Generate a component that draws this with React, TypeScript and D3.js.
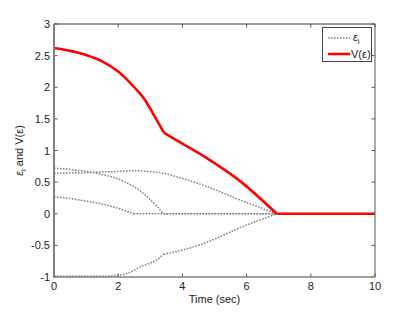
import React from "react";
import * as d3 from "d3";

const xTicks = [0, 2, 4, 6, 8, 10];
const yTicks = [-1, -0.5, 0, 0.5, 1, 1.5, 2, 2.5, 3];

const tV = [0, 0.5, 1, 1.5, 2, 2.5, 2.86, 3.09, 3.43, 4, 4.76, 5.79, 6.94, 10];
const vV = [2.62, 2.575, 2.51, 2.41, 2.25, 2.0, 1.78, 1.58, 1.28, 1.11, 0.88, 0.52, 0, 0];
const kinksV = [3.43, 6.94];

const tE1 = [0, 0.5, 1, 1.23, 1.5, 1.95, 2.3, 2.58, 3.0, 3.2, 3.41, 10];
const vE1 = [0.72, 0.7, 0.67, 0.65, 0.62, 0.56, 0.48, 0.4, 0.22, 0.12, 0, 0];
const kinksE1 = [3.41];

const tE2 = [0, 0.5, 1, 1.5, 2, 2.5, 3, 3.41, 3.82, 4.76, 5.79, 6.94, 10];
const vE2 = [0.64, 0.645, 0.65, 0.66, 0.67, 0.68, 0.665, 0.64, 0.585, 0.43, 0.22, 0, 0];
const kinksE2 = [6.94];

const tE3 = [0, 0.5, 1, 1.5, 2, 2.48, 10];
const vE3 = [0.27, 0.24, 0.2, 0.155, 0.085, 0, 0];
const kinksE3 = [2.48];

const tE4 = [0, 1, 1.43, 2.06, 2.4, 2.68, 3.0, 3.2, 3.41, 4.03, 4.86, 5.8, 6.94, 10];
const vE4 = [-0.985, -0.99, -0.99, -0.97, -0.92, -0.84, -0.78, -0.73, -0.64, -0.57, -0.43, -0.22, 0, 0];
const kinksE4 = [3.41, 6.94];

const W = 415;
const H = 312;
const L = 54, R = 375, T = 24, B = 277;
const FONT = "'Liberation Sans', Arial, sans-serif";

type P = [number, number];

function splitAt(t: number[], v: number[], kinks: number[]): P[][] {
  const segs: P[][] = [];
  let cur: P[] = [];
  t.forEach((tt, i) => {
    const p: P = [tt, v[i]];
    cur.push(p);
    if (kinks.includes(tt)) {
      segs.push(cur);
      cur = [p];
    }
  });
  if (cur.length > 1) segs.push(cur);
  return segs;
}

export default function App() {
  const x = d3.scaleLinear().domain([0, 10]).range([L, R]);
  const y = d3.scaleLinear().domain([-1, 3]).range([B, T]);
  const line = d3
    .line<P>()
    .x((d) => x(d[0]))
    .y((d) => y(d[1]))
    .curve(d3.curveMonotoneX);
  const pathOf = (segs: P[][]) => segs.map((s) => line(s) || "").join("");
  const eps = [
    pathOf(splitAt(tE1, vE1, kinksE1)),
    pathOf(splitAt(tE2, vE2, kinksE2)),
    pathOf(splitAt(tE3, vE3, kinksE3)),
    pathOf(splitAt(tE4, vE4, kinksE4)),
  ];
  const vPath = pathOf(splitAt(tV, vV, kinksV));
  const tk = 3.5;
  return (
    <svg
      width={W}
      height={H}
      style={{ position: "absolute", left: 0, top: 0, background: "#fff" }}
      fontFamily={FONT}
    >
      <rect x={0} y={0} width={W} height={H} fill="#fff" />
      <defs>
        <clipPath id="pa">
          <rect x={L} y={T - 2} width={R - L} height={B - T + 4} />
        </clipPath>
      </defs>
      {xTicks.map((t) => (
        <g key={"x" + t}>
          <line x1={x(t)} x2={x(t)} y1={B} y2={B - tk} stroke="#555" strokeWidth={1} />
          <line x1={x(t)} x2={x(t)} y1={T} y2={T + tk} stroke="#555" strokeWidth={1} />
          <text x={x(t)} y={290} fontSize={11} textAnchor="middle" fill="#222">
            {t}
          </text>
        </g>
      ))}
      {yTicks.map((t) => (
        <g key={"y" + t}>
          <line x1={L} x2={L + tk} y1={y(t)} y2={y(t)} stroke="#555" strokeWidth={1} />
          <line x1={R} x2={R - tk} y1={y(t)} y2={y(t)} stroke="#555" strokeWidth={1} />
          <text x={L - 4} y={y(t) + 4} fontSize={11} textAnchor="end" fill="#222">
            {String(t)}
          </text>
        </g>
      ))}
      <g clipPath="url(#pa)">
        {eps.map((d, i) => (
          <path
            key={i}
            d={d}
            fill="none"
            stroke="#808080"
            strokeWidth={1.5}
            strokeDasharray="1.6,1.4"
          />
        ))}
        <path d={vPath} fill="none" stroke="#ff0000" strokeWidth={2.6} strokeLinejoin="round" />
      </g>
      <line x1={L} x2={R} y1={T} y2={T} stroke="#333" strokeWidth={1} />
      <line x1={R} x2={R} y1={T} y2={B} stroke="#555" strokeWidth={1} />
      <line x1={L} x2={R} y1={B} y2={B} stroke="#808080" strokeWidth={1.6} />
      <line x1={L} x2={L} y1={T} y2={B + 0.8} stroke="#808080" strokeWidth={2} />
      <rect x={322.5} y={27.5} width={49} height={34} fill="#fff" stroke="#444" strokeWidth={1} />
      <line x1={328} x2={350} y1={38} y2={38} stroke="#808080" strokeWidth={1.5} strokeDasharray="1.6,1.4" />
      <text x={353} y={41} fontSize={11} fill="#222" fontStyle="italic">
        ε<tspan fontSize={8} dy={3} fontStyle="normal">i</tspan>
      </text>
      <line x1={328} x2={350} y1={54} y2={54} stroke="#ff0000" strokeWidth={2.6} />
      <text x={351} y={58} fontSize={11} fill="#222">
        V(ε)
      </text>
      <text x={(L + R) / 2} y={303} fontSize={11} textAnchor="middle" fill="#222">
        Time (sec)
      </text>
      <text
        transform={`translate(23, ${(T + B) / 2}) rotate(-90)`}
        fontSize={11}
        textAnchor="middle"
        fill="#222"
      >
        <tspan fontStyle="italic">ε</tspan>
        <tspan fontSize={8} dy={3}>i</tspan>
        <tspan dy={-3}> and V(ε)</tspan>
      </text>
    </svg>
  );
}
